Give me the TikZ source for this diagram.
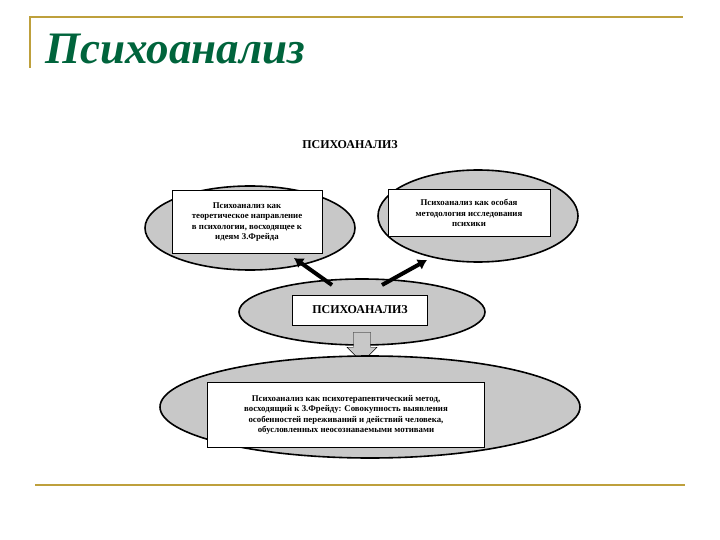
\documentclass[tikz,border=0pt]{standalone}
\usepackage{fontspec}
\setmainfont{Liberation Serif}
\usetikzlibrary{arrows.meta,shapes.arrows}
\definecolor{gold}{RGB}{190,160,60}
\definecolor{ttl}{RGB}{0,100,60}
\definecolor{ell}{RGB}{200,200,200}
\begin{document}
\begin{tikzpicture}[x=1pt,y=-1pt,
  oval/.style={draw,fill=ell,line width=1.6pt},
  box/.style={draw,fill=white,line width=0.6pt,align=center,font=\bfseries\fontsize{8.8}{10.5}\selectfont,inner sep=2pt},
  bigarr/.style={line width=4pt,-{Latex[length=9pt,width=12pt]}}]
\useasboundingbox (0,0) rectangle (720,540);
\draw[gold,line width=1.2pt] (30,68) -- (30,17) -- (683,17);
\draw[gold,line width=1.2pt] (35,485) -- (685,485);
\node[anchor=base west,text=ttl,font=\bfseries\itshape\fontsize{45}{45}\selectfont,inner sep=0pt] (title) at (45,64) {Психоанализ};
\node[font=\bfseries\fontsize{12}{14}\selectfont] (hdr) at (350,145) {ПСИХОАНАЛИЗ};
\draw[oval] (250,228) ellipse [x radius=105,y radius=42];
\node[box,minimum width=150,minimum height=63] (b1) at (247,222) {Психоанализ как\\теоретическое направление\\в психологии, восходящее к\\идеям З.Фрейда};
\draw[oval] (478,216) ellipse [x radius=100,y radius=46];
\node[box,minimum width=162,minimum height=47] (b2) at (469,213) {Психоанализ как особая\\методология исследования\\психики};
\draw[oval] (362,312) ellipse [x radius=123,y radius=33];
\node[box,minimum width=135,minimum height=30,font=\bfseries\fontsize{12}{14}\selectfont] (b3) at (360,310) {ПСИХОАНАЛИЗ};
\coordinate (a1s) at (332,285); \coordinate (a1e) at (294,258);
\coordinate (a2s) at (382,285); \coordinate (a2e) at (427,260);
\draw[bigarr] (a1s) -- (a1e);
\draw[bigarr] (a2s) -- (a2e);
\node[single arrow,draw,fill=ell,shape border rotate=270,minimum height=30,minimum width=30,single arrow head extend=4pt,inner sep=5pt] (da) at (362,343) {};
\draw[oval] (370,407) ellipse [x radius=210,y radius=51];
\node[box,minimum width=277,minimum height=65] (b4) at (346,415) {Психоанализ как психотерапевтический метод,\\восходящий к З.Фрейду: Совокупность выявления\\особенностей переживаний и действий человека,\\обусловленных неосознаваемыми мотивами};
\end{tikzpicture}
\end{document}
